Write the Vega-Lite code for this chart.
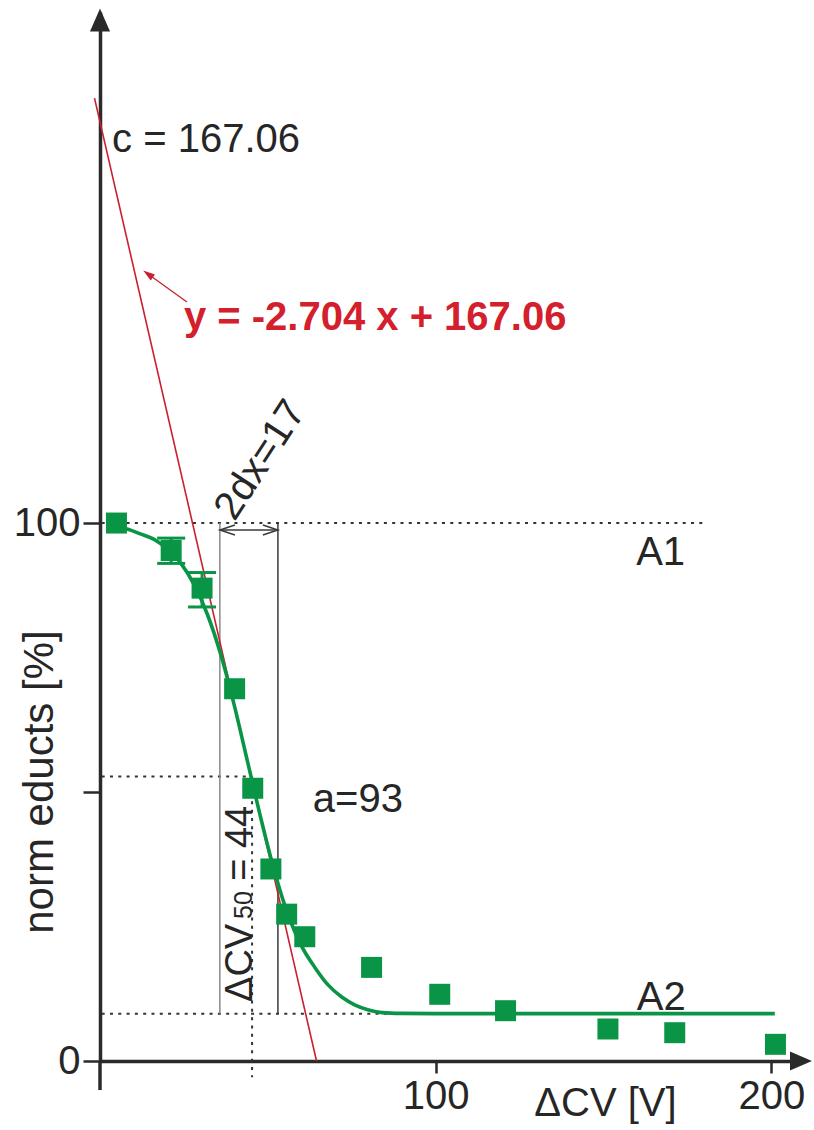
{
"$schema": "https://vega.github.io/schema/vega-lite/v6.json",
"width": 705,
"height": 1049,
"autosize": {"type": "none"},
"padding": {"left": 100, "top": 12, "right": 9, "bottom": 69},
"background": "#ffffff",
"config": {"view": {"stroke": null}, "font": "Liberation Sans"},
"datasets": {
"pts": [{"x":4.9,"y":100},{"x":21.2,"y":94.9},{"x":30.4,"y":87.9},{"x":40.1,"y":69.2},{"x":45.5,"y":50.7},{"x":50.9,"y":35.7},{"x":55.6,"y":27.3},{"x":61.0,"y":23.1},{"x":80.9,"y":17.4},{"x":101.2,"y":12.4},{"x":120.8,"y":9.35},{"x":151.3,"y":5.95},{"x":171.2,"y":5.26},{"x":201.2,"y":3.1}],
"err": [{"x":21.2,"y":92.5,"y2":97.2},{"x":30.4,"y":84.4,"y2":90.8}],
"fit": [{"x":4.9,"y":99.3},{"x":8,"y":98.9},{"x":12,"y":98.0},{"x":16,"y":97.0},{"x":20,"y":95.2},{"x":24,"y":92.6},{"x":28,"y":88.6},{"x":32,"y":83.0},{"x":36,"y":75.5},{"x":40,"y":66.1},{"x":44,"y":55.5},{"x":48,"y":44.9},{"x":52,"y":35.2},{"x":56,"y":27.2},{"x":60,"y":21.4},{"x":64,"y":17.4},{"x":68,"y":14.1},{"x":72,"y":11.9},{"x":76,"y":10.4},{"x":80,"y":9.5},{"x":84,"y":9.0},{"x":90,"y":8.85},{"x":100,"y":8.8},{"x":150,"y":8.8},{"x":201,"y":8.8}],
"red": [{"x":-1.64,"y":179.0},{"x":64.5,"y":0}],
"redarrow": [{"x":25.9,"y":141.1,"x2":14.3,"y2":146.3}],
"redhead": [{"x":14.3,"y":146.3}],
"dotted": [{"x":0.5,"x2":180.2,"y":100,"y2":100},{"x":0.5,"x2":45.3,"y":52.9,"y2":52.9},{"x":45.3,"x2":45.3,"y":52.9,"y2":-3},{"x":0.5,"x2":86.4,"y":8.8,"y2":8.8}],
"boxL": [{"x":35.7,"y":100,"y2":8.8}],
"boxR": [{"x":53.0,"y":100,"y2":8.8}],
"dbl": [{"x":35.7,"x2":53.0,"y":98.7,"y2":98.7}],
"headL": [{"x":37.95,"y":98.7}],
"headR": [{"x":50.75,"y":98.7}],
"texts": [{"x":3.6,"y":169.0,"text":"c = 167.06"},{"x":159.7,"y":92.2,"text":"A1"},{"x":159.9,"y":9.5,"text":"A2"},{"x":63.4,"y":46.3,"text":"a=93"}],
"eq": [{"x":25.0,"y":135.9,"text":"y = -2.704 x + 167.06"}],
"twodx": [{"x":47.8,"y":111.7,"text":"2dx=17"}],
"dcv": [{"x":45.3,"y":10.97,"text":"ΔCV"},{"x":45.3,"y":33.5,"text":"= 44"}],
"sub": [{"x":45.3,"y":26.4,"text":"50"}],
"yarrow": [{"x":0,"y":193.5}],
"xarrow": [{"x":208.8,"y":0}],
"yext": [{"x":0,"y":0,"y2":-5.4}]
},
"encoding": {
"x": {"field": "x", "type": "quantitative",
 "scale": {"domain": [0, 210], "nice": false, "zero": false},
 "axis": {"values": [100, 200], "grid": false, "tickSize": 12, "tickWidth": 2.5, "tickColor": "#2a2a2a", "domainColor": "#2a2a2a", "domainWidth": 3.5, "labelFontSize": 40, "labelColor": "#262626", "labelPadding": 3, "labelFlush": false, "labelOverlap": false, "labelBound": false, "title": "ΔCV [V]", "titleFontSize": 40, "titleFontWeight": "normal", "titleColor": "#262626", "titleX": 505, "titleY": 54, "titleAlign": "center", "titleBaseline": "alphabetic"}},
"y": {"field": "y", "type": "quantitative",
 "scale": {"domain": [0, 195], "nice": false, "zero": false},
 "axis": {"values": [0, 50, 100], "labelExpr": "datum.value == 50 ? '' : datum.label", "grid": false, "tickSize": 17, "tickWidth": 2.5, "tickColor": "#2a2a2a", "domainColor": "#2a2a2a", "domainWidth": 3.5, "labelFontSize": 40, "labelColor": "#262626", "labelPadding": 3, "labelFlush": false, "labelOverlap": false, "labelBound": false, "title": "norm educts [%]", "titleFontSize": 42, "titleFontWeight": "normal", "titleColor": "#262626", "titleAngle": 270, "titleX": -48, "titleY": 769.5, "titleAlign": "center", "titleBaseline": "alphabetic"}}
},
"layer": [
{"data": {"name": "dotted"}, "mark": {"type": "rule", "color": "#333333", "strokeWidth": 2, "strokeDash": [3, 5.3]}, "encoding": {"x2": {"field": "x2"}, "y2": {"field": "y2"}}},
{"data": {"name": "boxL"}, "mark": {"type": "rule", "color": "#8a8a8a", "strokeWidth": 1.5}, "encoding": {"y2": {"field": "y2"}}},
{"data": {"name": "boxR"}, "mark": {"type": "rule", "color": "#3a3a3a", "strokeWidth": 1.5}, "encoding": {"y2": {"field": "y2"}}},
{"data": {"name": "dbl"}, "mark": {"type": "rule", "color": "#3a3a3a", "strokeWidth": 1.5}, "encoding": {"x2": {"field": "x2"}, "y2": {"field": "y2"}}},
{"data": {"name": "headL"}, "mark": {"type": "point", "shape": "M1,-0.67L-1,0L1,0.67", "size": 225, "filled": false, "stroke": "#3a3a3a", "strokeWidth": 1.5, "opacity": 1}},
{"data": {"name": "headR"}, "mark": {"type": "point", "shape": "M-1,-0.67L1,0L-1,0.67", "size": 225, "filled": false, "stroke": "#3a3a3a", "strokeWidth": 1.5, "opacity": 1}},
{"data": {"name": "red"}, "mark": {"type": "line", "color": "#c8202e", "strokeWidth": 1.6}, "encoding": {}},
{"data": {"name": "redarrow"}, "mark": {"type": "rule", "color": "#c8202e", "strokeWidth": 1.3}, "encoding": {"x2": {"field": "x2"}, "y2": {"field": "y2"}}},
{"data": {"name": "redhead"}, "mark": {"type": "point", "shape": "M0,-1L-0.6,1L0.6,1Z", "size": 144, "filled": true, "color": "#c8202e", "angle": -54, "opacity": 1}},
{"data": {"name": "fit"}, "mark": {"type": "line", "color": "#0a9546", "strokeWidth": 3.6, "interpolate": "monotone"}, "encoding": {}},
{"data": {"name": "err"}, "mark": {"type": "errorbar", "color": "#0a9546", "opacity": 1, "thickness": 3, "rule": {"opacity": 1, "color": "#0a9546"}, "ticks": {"size": 28, "thickness": 3, "color": "#0a9546", "opacity": 1}}, "encoding": {"y2": {"field": "y2"}}},
{"data": {"name": "pts"}, "mark": {"type": "point", "shape": "square", "filled": true, "size": 441, "color": "#0a9546", "opacity": 1}},
{"data": {"name": "texts"}, "mark": {"type": "text", "fontSize": 40, "align": "left", "baseline": "alphabetic", "color": "#262626"}, "encoding": {"text": {"field": "text"}}},
{"data": {"name": "eq"}, "mark": {"type": "text", "fontSize": 40, "fontWeight": "bold", "align": "left", "baseline": "alphabetic", "color": "#d4202c"}, "encoding": {"text": {"field": "text"}}},
{"data": {"name": "twodx"}, "mark": {"type": "text", "fontSize": 40, "align": "center", "baseline": "middle", "angle": -57, "color": "#262626"}, "encoding": {"text": {"field": "text"}}},
{"data": {"name": "dcv"}, "mark": {"type": "text", "fontSize": 38, "align": "left", "baseline": "alphabetic", "angle": -90, "color": "#262626"}, "encoding": {"text": {"field": "text"}}},
{"data": {"name": "sub"}, "mark": {"type": "text", "fontSize": 25, "align": "left", "baseline": "alphabetic", "angle": -90, "color": "#262626"}, "encoding": {"text": {"field": "text"}}},
{"data": {"name": "yext"}, "mark": {"type": "rule", "color": "#2a2a2a", "strokeWidth": 3.5}, "encoding": {"y2": {"field": "y2"}}},
{"data": {"name": "yarrow"}, "mark": {"type": "point", "shape": "M0,-1L-0.87,1L0.87,1Z", "size": 529, "filled": true, "color": "#2a2a2a", "opacity": 1}},
{"data": {"name": "xarrow"}, "mark": {"type": "point", "shape": "M1,0L-1,-0.87L-1,0.87Z", "size": 484, "filled": true, "color": "#2a2a2a", "opacity": 1}}
]
}
